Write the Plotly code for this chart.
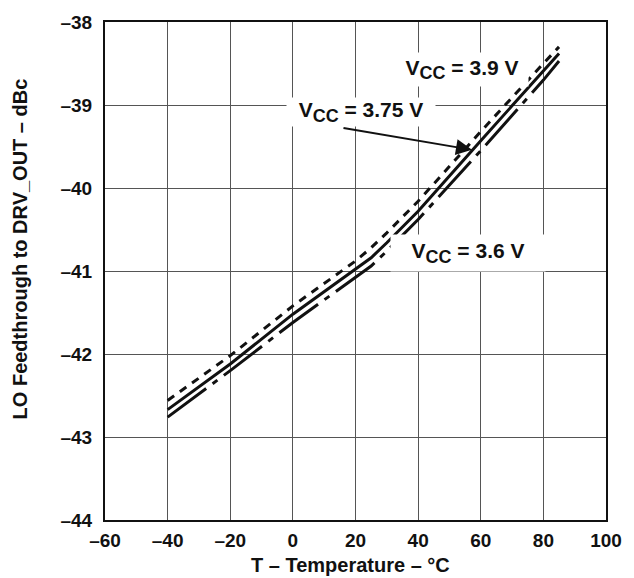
import plotly.graph_objects as go

# Data
temp = [-40, -20, 0, 20, 25, 30, 40, 60, 80, 85]
vcc_39 = [-42.56, -42.02, -41.42, -40.88, -40.72, -40.54, -40.16, -39.32, -38.50, -38.30]
vcc_375 = [-42.67, -42.12, -41.52, -40.98, -40.84, -40.66, -40.28, -39.43, -38.60, -38.38]
vcc_36 = [-42.76, -42.20, -41.62, -41.08, -40.94, -40.76, -40.38, -39.55, -38.70, -38.47]

x_ticks = [-60, -40, -20, 0, 20, 40, 60, 80, 100]
x_ticktext = ["–60", "–40", "–20", "0", "20", "40", "60", "80", "100"]
y_ticks = [-44, -43, -42, -41, -40, -39, -38]
y_ticktext = ["–44", "–43", "–42", "–41", "–40", "–39", "–38"]

FONT = "Liberation Sans, Arial, sans-serif"

fig = go.Figure()
fig.add_trace(go.Scatter(x=temp, y=vcc_39, mode="lines", name="VCC = 3.9 V",
                         line=dict(color="#111", width=3, dash="8px,7px")))
fig.add_trace(go.Scatter(x=temp, y=vcc_375, mode="lines", name="VCC = 3.75 V",
                         line=dict(color="#111", width=3)))
fig.add_trace(go.Scatter(x=temp, y=vcc_36, mode="lines", name="VCC = 3.6 V",
                         line=dict(color="#111", width=3, dash="48px,8px,6px,8px")))

axis_common = dict(showgrid=True, gridcolor="#555", gridwidth=1, zeroline=False,
                   showline=True, linecolor="#111", linewidth=2, mirror=True,
                   ticks="", tickfont=dict(family=FONT, size=19, color="#111"))

fig.update_xaxes(range=[-60, 100], tickvals=x_ticks,
                 ticktext=["<b>%s</b>" % t for t in x_ticktext],
                 ticklabelstandoff=2, **axis_common)
fig.update_yaxes(range=[-44, -38], tickvals=y_ticks,
                 ticktext=["<b>%s</b>" % t for t in y_ticktext],
                 ticklabelstandoff=7, **axis_common)

lab_font = dict(family=FONT, size=21, color="#111")
def vcc(v):
    return "<b>V<sub><span style='font-size:18px'>CC</span></sub> = %s V</b>" % v

fig.add_annotation(x=54.0, y=-38.57, text=vcc("3.9"), showarrow=False,
                   bgcolor="white", width=130, height=31, borderpad=1, font=lab_font)
fig.add_annotation(x=21.6, y=-39.08, text=vcc("3.75"), showarrow=False,
                   bgcolor="white", width=146, height=26, borderpad=1, font=lab_font)
fig.add_annotation(x=55.9, y=-40.78, text=vcc("3.6"), showarrow=False,
                   bgcolor="white", width=152, height=34, borderpad=1, font=lab_font)
# arrow pointing at the 3.75 V curve
fig.add_annotation(x=57.2, y=-39.54, text="", showarrow=True, ax=-130, ay=-22,
                   arrowhead=2, arrowsize=1.6, arrowwidth=2, arrowcolor="#111")

fig.add_annotation(xref="paper", yref="paper", x=0.49, y=-0.09, text="<b>T – Temperature – °C</b>",
                   showarrow=False, font=dict(family=FONT, size=20, color="#111"),
                   xanchor="center", yanchor="middle")
fig.add_annotation(xref="paper", yref="paper", x=-0.17, y=0.545, text="<b>LO Feedthrough to DRV_OUT – dBc</b>",
                   showarrow=False, font=dict(family=FONT, size=20, color="#111"),
                   textangle=-90, xanchor="center", yanchor="middle")

fig.update_layout(width=634, height=578, margin=dict(l=105, r=21, t=13, b=58),
                  plot_bgcolor="white", paper_bgcolor="white", showlegend=False,
                  font=dict(family=FONT))

fig.write_html("out.html")
